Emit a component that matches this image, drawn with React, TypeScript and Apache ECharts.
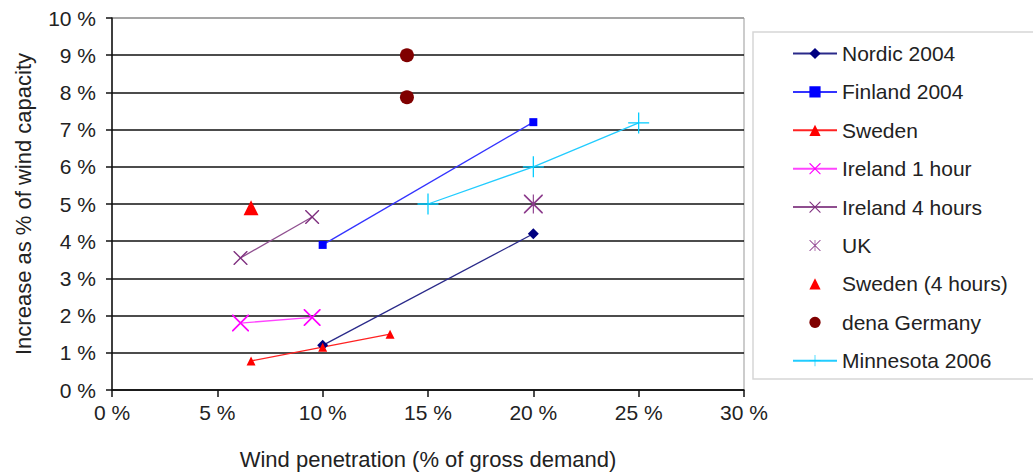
import React, { useEffect, useRef } from "react";
import * as echarts from "echarts";

// ---- Data ----
const xTicks = [0, 5, 10, 15, 20, 25, 30];
const yTicks = [0, 1, 2, 3, 4, 5, 6, 7, 8, 9, 10];

const nordicX = [10, 20];
const nordicY = [1.2, 4.2];
const finlandX = [10, 20];
const finlandY = [3.9, 7.2];
const swedenX = [6.6, 10, 13.2];
const swedenY = [0.78, 1.15, 1.5];
const ireland1X = [6.1, 9.5];
const ireland1Y = [1.8, 1.95];
const ireland4X = [6.1, 9.5];
const ireland4Y = [3.55, 4.65];
const ukX = [20];
const ukY = [5.0];
const sweden4X = [6.6];
const sweden4Y = [4.9];
const denaX = [14, 14];
const denaY = [9.0, 7.87];
const minnesotaX = [15, 20, 25];
const minnesotaY = [5.0, 6.0, 7.18];

const pairs = (xs: number[], ys: number[]) => xs.map((x, i) => [x, ys[i]]);

const X_PATH =
  "path://M0,0 L7,0 L100,93 L100,100 L93,100 L0,7 Z M100,0 L100,7 L7,100 L0,100 L0,93 L93,0 Z";
const PLUS_PATH =
  "path://M0,47 L100,47 L100,53 L0,53 Z M47,0 L53,0 L53,100 L47,100 Z";
const STAR_PATH =
  "path://M0,0 L6,0 L100,94 L100,100 L94,100 L0,6 Z M100,0 L100,6 L6,100 L0,100 L0,94 L94,0 Z M47,0 L53,0 L53,100 L47,100 Z";

const FONT = "Liberation Sans, Arial, sans-serif";

export default function App() {
  const ref = useRef<HTMLDivElement>(null);

  useEffect(() => {
    if (!ref.current) return;
    const chart = echarts.init(ref.current, null, { renderer: "svg" });

    const mk = (
      name: string,
      xs: number[],
      ys: number[],
      color: string,
      lineColor: string,
      symbol: string,
      symbolSize: number,
      showLine: boolean
    ) => ({
      name,
      type: "line",
      data: pairs(xs, ys),
      symbol,
      symbolSize,
      showSymbol: true,
      itemStyle: { color },
      lineStyle: { color: lineColor, width: 1.3, opacity: showLine ? 1 : 0 },
      emphasis: { disabled: true },
      z: 3,
    });

    const splitColors = yTicks.map((v) => (v === 10 ? "#999999" : "#111111"));

    chart.setOption({
      animation: false,
      textStyle: { fontFamily: FONT },
      grid: {
        left: 112,
        right: 289,
        top: 18,
        bottom: 83,
        show: true,
        borderColor: "#999999",
        borderWidth: 1,
        backgroundColor: "transparent",
      },
      xAxis: {
        type: "value",
        min: xTicks[0],
        max: xTicks[xTicks.length - 1],
        interval: 5,
        name: "Wind penetration (% of gross demand)",
        nameLocation: "middle",
        nameGap: 58,
        nameTextStyle: { fontSize: 22, color: "#222", fontFamily: FONT },
        axisLine: { show: true, onZero: false, lineStyle: { color: "#111", width: 1.5 } },
        axisTick: { show: true, length: 7, lineStyle: { color: "#111", width: 1.5 } },
        axisLabel: {
          formatter: "{value} %",
          fontSize: 21,
          color: "#222",
          margin: 12,
          fontFamily: FONT,
        },
        splitLine: { show: false },
      },
      yAxis: {
        type: "value",
        min: yTicks[0],
        max: yTicks[yTicks.length - 1],
        interval: 1,
        name: "Increase as % of wind capacity",
        nameLocation: "middle",
        nameGap: 78,
        nameTextStyle: { fontSize: 22, color: "#222", fontFamily: FONT },
        axisLine: { show: true, onZero: false, lineStyle: { color: "#111", width: 1.5 } },
        axisTick: { show: true, length: 6, lineStyle: { color: "#111", width: 1.5 } },
        axisLabel: {
          formatter: "{value} %",
          fontSize: 21,
          color: "#222",
          margin: 16,
          fontFamily: FONT,
        },
        splitLine: { show: true, lineStyle: { color: splitColors, width: 1.6 } },
      },
      legend: {
        orient: "vertical",
        left: 787,
        top: 38,
        itemWidth: 44,
        itemHeight: 14,
        itemGap: 17.4,
        textStyle: { fontSize: 21, color: "#222", fontFamily: FONT },
        selectedMode: false,
        data: [
          "Nordic 2004",
          "Finland 2004",
          "Sweden",
          "Ireland 1 hour",
          "Ireland 4 hours",
          "UK",
          "Sweden (4 hours)",
          "dena Germany",
          "Minnesota 2006",
        ],
      },
      graphic: [
        {
          type: "rect",
          shape: { x: 753, y: 32, width: 300, height: 347 },
          style: { fill: "none", stroke: "#d6d6d6", lineWidth: 1.5 },
          silent: true,
        },
      ],
      series: [
        mk("Nordic 2004", nordicX, nordicY, "#000080", "#2a2a8a", "diamond", 11, true),
        mk("Finland 2004", finlandX, finlandY, "#0000ff", "#3333ff", "rect", 8, true),
        mk("Sweden", swedenX, swedenY, "#ff0000", "#ff2222", "triangle", 9, true),
        mk("Ireland 1 hour", ireland1X, ireland1Y, "#ff00ff", "#ff44ff", X_PATH, 17, true),
        mk("Ireland 4 hours", ireland4X, ireland4Y, "#7f2f7f", "#8f4f8f", X_PATH, 14, true),
        mk("UK", ukX, ukY, "#8b3a8b", "#8b3a8b", STAR_PATH, 19, false),
        mk("Sweden (4 hours)", sweden4X, sweden4Y, "#ff0000", "#ff0000", "triangle", 15, false),
        mk("dena Germany", denaX, denaY, "#800000", "#800000", "circle", 14, false),
        mk("Minnesota 2006", minnesotaX, minnesotaY, "#00ccff", "#22ccff", PLUS_PATH, 21, true),
      ],
    });

    return () => chart.dispose();
  }, []);

  return (
    <div
      ref={ref}
      style={{ position: "fixed", left: 0, top: 0, width: 1033, height: 475, background: "#fff" }}
    />
  );
}
